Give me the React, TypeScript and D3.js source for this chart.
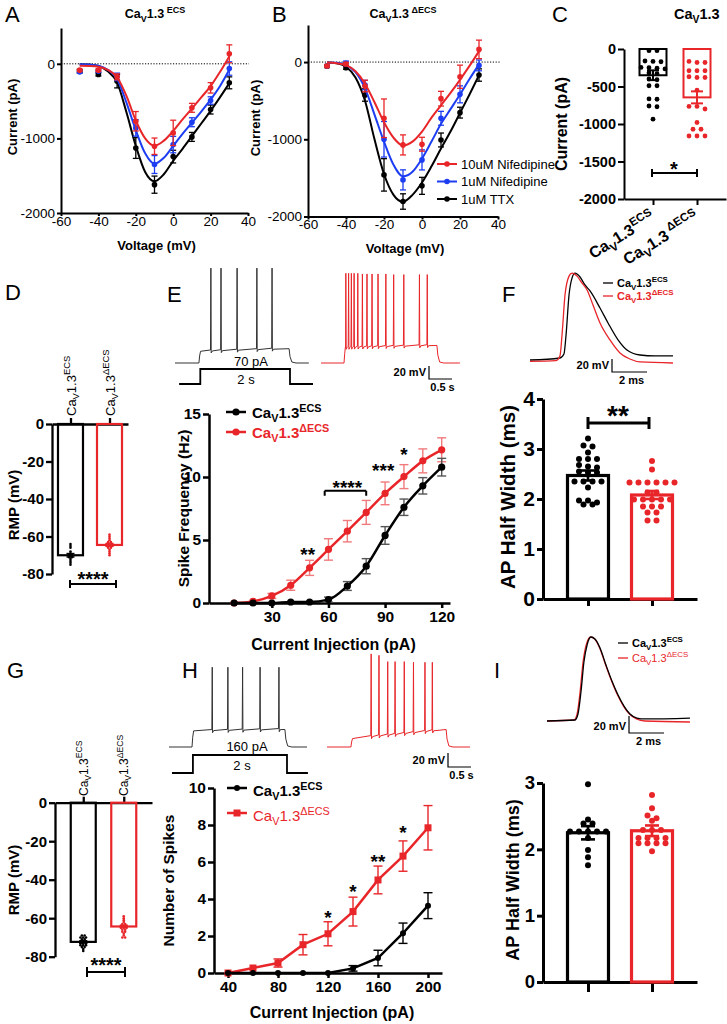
import React, { useEffect, useRef } from 'react';
import * as d3 from 'd3';

const FONT = 'Arial, "Liberation Sans", Helvetica, sans-serif';
const RED = '#e8262a';
const BLUE = '#1d3df2';

// ---------- A / B : current-voltage relation (pA) ----------
const ivVoltage = [-50, -40, -30, -20, -10, 0, 10, 20, 30];
const ecsTtx = [-98, -143, -233, -1128, -1620, -1244, -980, -613, -255];
const ecsTtxErr = [20, 20, 90, 140, 115, 85, 60, 60, 80];
const ecsNif1 = [-110, -98, -175, -860, -1350, -1083, -783, -492, -63];
const ecsNif1Err = [15, 15, 50, 110, 120, 110, 60, 50, 90];
const ecsNif10 = [-85, -85, -175, -770, -1105, -926, -590, -322, 134];
const ecsNif10Err = [15, 15, 40, 130, 110, 170, 60, 70, 120];

const delTtx = [-52, -73, -427, -1461, -1806, -1603, -1009, -655, -168];
const delTtxErr = [20, 20, 80, 210, 100, 110, 90, 70, 80];
const delNif1 = [-50, -17, -297, -1000, -1526, -1267, -728, -418, -43];
const delNif1Err = [15, 30, 60, 230, 130, 130, 90, 110, 70];
const delNif10 = [-50, -25, -310, -728, -1073, -1064, -474, -190, 164];
const delNif10Err = [15, 20, 75, 250, 130, 90, 95, 150, 120];

// fitted curves every 5 mV
const fitVoltage = [-50, -45, -40, -35, -30, -25, -20, -15, -10, -5, 0, 5, 10, 15, 20, 25, 30];
const ecsTtxFit = [-5, -10, -30, -100, -250, -650, -1100, -1450, -1575, -1480, -1300, -1140, -970, -800, -630, -450, -260];
const ecsNif1Fit = [-5, -10, -25, -80, -200, -520, -890, -1200, -1340, -1260, -1100, -940, -790, -640, -480, -300, -80];
const ecsNif10Fit = [-25, -28, -38, -80, -180, -430, -760, -1000, -1100, -1030, -900, -745, -600, -450, -300, -110, 100];
const delTtxFit = [-5, -15, -60, -200, -500, -1000, -1450, -1720, -1810, -1720, -1560, -1350, -1120, -900, -660, -420, -170];
const delNif1Fit = [-5, -10, -40, -130, -340, -680, -1030, -1330, -1480, -1420, -1250, -1030, -800, -610, -420, -220, -30];
const delNif10Fit = [-5, -15, -40, -120, -280, -520, -780, -980, -1080, -1030, -900, -720, -560, -400, -230, -50, 140];

const ivLegend = ['10uM Nifedipine', '1uM Nifedipine', '1uM TTX'];

// ---------- C : peak current per cell (pA) ----------
const cMeans = [-350, -645];
const cSem = [65, 80];
const cEcsCells = [-22, -22, -160, -170, -165, -250, -245, -255, -265, -320, -330, -410, -400, -490, -490, -670, -665, -760, -770, -935];
const cDelCells = [-180, -180, -165, -290, -290, -290, -380, -380, -370, -550, -765, -765, -800, -980, -1070, -1070, -1160, -1160, -1160];

// ---------- D / G : resting membrane potential (mV) ----------
const dMeans = [-70, -64.5];
const dSem = [0.9, 0.7];
const dEcsCells = [-64, -65, -66, -68, -69, -70, -70, -71, -71, -72, -73, -74, -75];
const dDelCells = [-59, -60, -61, -62, -63, -63, -64, -64, -64, -65, -65, -65, -66, -66, -67, -68, -69, -70];
const gMeans = [-72.3, -64.3];
const gSem = [0.5, 0.6];
const gEcsCells = [-69, -69, -70, -70, -70, -71, -71, -72, -72, -72, -73, -73, -73, -74, -74, -74, -75, -75, -76, -77];
const gDelCells = [-59, -60, -61, -62, -63, -63, -64, -64, -64, -65, -65, -65, -66, -66, -67, -67, -68, -69, -70, -70];

// ---------- E : spike frequency (Hz) vs current (pA) ----------
const eCurrents = [10, 20, 30, 40, 50, 60, 70, 80, 90, 100, 110, 120];
const eEcs = [0, 0, 0, 0.08, 0.08, 0.27, 1.35, 2.92, 5.36, 7.6, 9.3, 10.78];
const eEcsErr = [0, 0, 0, 0.05, 0.05, 0.2, 0.35, 0.6, 0.7, 0.65, 0.65, 0.7];
const eDel = [0, 0.13, 0.56, 1.41, 2.79, 4.25, 5.7, 7.19, 8.7, 10.03, 11.28, 12.16];
const eDelErr = [0, 0.1, 0.2, 0.4, 0.6, 0.85, 0.85, 0.95, 0.9, 0.95, 0.95, 0.95];
const eStars = [
  { x: 49, y: 4.2, t: '**' },
  { x: 70, y: 9.55, t: '****' },
  { x: 89, y: 10.9, t: '***' },
  { x: 100, y: 12.15, t: '*' },
];

// ---------- H : number of spikes vs current (pA) ----------
const hCurrents = [40, 60, 80, 100, 120, 140, 160, 180, 200];
const hEcs = [0, 0, 0, 0, 0, 0.25, 0.81, 2.15, 3.64];
const hEcsErr = [0, 0, 0, 0, 0, 0.15, 0.42, 0.55, 0.7];
const hDel = [0, 0.27, 0.54, 1.53, 2.12, 3.32, 5.03, 6.32, 7.85];
const hDelErr = [0, 0.1, 0.22, 0.55, 0.65, 0.78, 0.75, 0.82, 1.2];
const hStars = [
  { x: 120, y: 3.23, t: '*' },
  { x: 140, y: 4.66, t: '*' },
  { x: 160, y: 6.29, t: '**' },
  { x: 180, y: 7.82, t: '*' },
];

// ---------- E / H : example voltage traces (s, mV) ----------
const eEcsTrace = { on: 0.52, off: 2.48, end: 2.91, rest: -65, plateau: [-47, -43], spikes: [0.78, 1.0, 1.35, 1.78, 2.11], peaks: [81, 81, 81, 81, 81] };
const eDelTrace = {
  on: 0.5, off: 2.52, end: 3.02, rest: -65, plateau: [-41, -38],
  spikes: [0.54, 0.6, 0.66, 0.72, 0.8, 0.9, 1.0, 1.11, 1.24, 1.41, 1.58, 1.8, 2.14, 2.31],
  peaks: [73, 73, 73, 73, 73, 72, 72, 72, 72, 72, 71, 71, 71, 71],
};
const hEcsTrace = { on: 0.5, off: 2.52, end: 3.0, rest: -65, plateau: [-42, -40], spikes: [0.94, 1.28, 1.6, 1.98, 2.39], peaks: [49, 49, 49, 49, 49] };
const hDelTrace = {
  on: 0.52, off: 2.59, end: 3.11, rest: -65, plateau: [-53, -40],
  spikes: [0.96, 1.13, 1.32, 1.48, 1.68, 1.88, 2.13, 2.29],
  peaks: [68, 66, 57, 57, 57, 56, 56, 56],
};

// ---------- F / I : averaged action potentials (ms, mV) ----------
const fApEcs = [[0, -60], [1.71, -56.9], [1.94, -50.8], [2.06, -21.5], [2.23, 40], [2.4, 66], [2.57, 73.8], [2.86, 67.7], [3.14, 55.4], [3.43, 46.2], [4.0, 20], [4.46, -3], [5.03, -29], [5.54, -44.6], [6.29, -52.3], [7.14, -53.8], [8.17, -53.8]];
const fApDel = [[0, -62], [1.49, -61], [1.71, -54], [1.83, -21.5], [2.0, 40], [2.23, 69], [2.4, 73.8], [2.69, 69], [2.97, 58.5], [3.26, 47.7], [3.6, 24.6], [4.0, -3], [4.57, -29.2], [5.14, -49.2], [5.71, -58.5], [6.29, -63], [8.17, -64.6]];
const iApEcs = [[0, -60], [1.6, -58.8], [1.77, -51.8], [1.94, -25.9], [2.11, 9.4], [2.29, 29.4], [2.51, 38.8], [2.74, 36.5], [3.03, 25.9], [3.37, 5.9], [3.71, -12.9], [4.06, -29.4], [4.4, -42.4], [4.74, -51.8], [5.14, -56.5], [5.6, -57.6], [8.17, -56.5]];
const iApDel = [[0, -60], [1.55, -58.8], [1.72, -51.8], [1.89, -25.9], [2.06, 9.4], [2.26, 31], [2.49, 38.8], [2.72, 36.5], [3.01, 25.9], [3.35, 5.9], [3.69, -12.9], [4.03, -29.4], [4.37, -42.4], [4.71, -51.8], [5.11, -57.6], [5.6, -60], [8.17, -61.2]];

// ---------- F / I : AP half width (ms) ----------
const fMeans = [2.47, 2.08];
const fSem = [0.1, 0.08];
const fEcsCells = [3.21, 3.05, 3.07, 2.93, 2.8, 2.8, 2.8, 2.65, 2.68, 2.63, 2.53, 2.55, 2.53, 2.35, 2.35, 2.35, 2.35, 2.23, 1.97, 1.93, 1.97, 1.89, 1.89];
const fDelCells = [2.76, 2.59, 2.33, 2.33, 2.33, 2.33, 2.33, 2.33, 2.13, 2.13, 1.99, 1.99, 1.99, 1.99, 1.99, 1.85, 1.85, 1.85, 1.73, 1.73, 1.57, 1.57];
const iMeans = [2.25, 2.28];
const iSem = [0.1, 0.08];
const iEcsCells = [2.98, 2.45, 2.39, 2.39, 2.27, 2.27, 2.27, 2.27, 2.27, 2.17, 1.99, 1.88, 1.76];
const iDelCells = [2.82, 2.62, 2.51, 2.47, 2.43, 2.29, 2.29, 2.29, 2.17, 2.17, 2.17, 2.17, 2.09, 2.09, 2.09, 2.09, 1.97];

// ---------------------------------------------------------------
function styleAxis(g: any, size: number, weight: string, sw: number) {
  g.attr('font-family', FONT).attr('font-size', size).attr('font-weight', weight);
  g.select('.domain').attr('stroke', '#000').attr('stroke-width', sw);
  g.selectAll('.tick line').attr('stroke', '#000').attr('stroke-width', sw);
  g.selectAll('.tick text').attr('fill', '#000');
}

function txt(g: any, x: number, y: number, s: string, size: number, o: any = {}) {
  const t = g.append('text').attr('x', x).attr('y', y).text(s)
    .attr('font-size', size).attr('font-family', FONT)
    .attr('font-weight', o.weight || 'normal').attr('fill', o.fill || '#000')
    .attr('text-anchor', o.anchor || 'start');
  if (o.rotate) t.attr('transform', `rotate(${o.rotate},${x},${y})`);
  return t;
}

// "Ca" + subscript V + "1.3" + superscript
function cav(g: any, x: number, y: number, sup: string, size: number, o: any = {}) {
  const t = g.append('text').attr('x', x).attr('y', y)
    .attr('font-size', size).attr('font-family', FONT)
    .attr('font-weight', o.weight || 'bold').attr('fill', o.fill || '#000')
    .attr('text-anchor', o.anchor || 'start');
  if (o.rotate) t.attr('transform', `rotate(${o.rotate},${x},${y})`);
  t.append('tspan').text('Ca');
  t.append('tspan').attr('font-size', size * 0.72).attr('dy', size * 0.28).text('V');
  t.append('tspan').attr('dy', -size * 0.28).text('1.3');
  t.append('tspan').attr('font-size', size * 0.72).attr('dy', -size * 0.42).text(sup);
  return t;
}

function errorBar(g: any, x: number, y1: number, y2: number, color: string, cap: number, sw: number) {
  g.append('line').attr('x1', x).attr('x2', x).attr('y1', y1).attr('y2', y2).attr('stroke', color).attr('stroke-width', sw);
  [y1, y2].forEach((yy) => {
    g.append('line').attr('x1', x - cap / 2).attr('x2', x + cap / 2).attr('y1', yy).attr('y2', yy)
      .attr('stroke', color).attr('stroke-width', sw);
  });
}

function bracket(g: any, x1: number, x2: number, y: number, up: number, down: number, sw: number) {
  g.append('path')
    .attr('d', `M${x1},${y - up}V${y + down}M${x1},${y}H${x2}M${x2},${y - up}V${y + down}`)
    .attr('stroke', '#000').attr('stroke-width', sw).attr('fill', 'none');
}

function starText(g: any, x: number, cy: number, s: string, size: number) {
  txt(g, x, cy + size * 0.58, s, size, { weight: 'bold', anchor: 'middle' });
}

// column-scatter layout: values at similar height are spread in a row
function swarm(values: number[], y: any, cx: number, spacing: number, tol: number) {
  const pts = values.map((v) => ({ y: y(v) })).sort((a, b) => a.y - b.y);
  const groups: any[] = [];
  pts.forEach((p) => {
    const last = groups[groups.length - 1];
    if (last && Math.abs(p.y - last[0].y) <= tol) last.push(p);
    else groups.push([p]);
  });
  const out: any[] = [];
  groups.forEach((grp) => grp.forEach((p: any, i: number) => out.push({ x: cx + (i - (grp.length - 1) / 2) * spacing, y: p.y })));
  return out;
}

// ---------------------------------------------------------------
function drawIV(root: any, o: any) {
  const g = root.append('g');
  const x = d3.scaleLinear().domain([-60, 40]).range([o.x0, o.x1]);
  const y = d3.scaleLinear().domain([-2000, 480]).range([o.yBottom, o.yTop]);

  g.append('line').attr('x1', o.x0).attr('x2', o.zeroEnd).attr('y1', y(0)).attr('y2', y(0))
    .attr('stroke', '#000').attr('stroke-width', 1).attr('stroke-dasharray', '1.2,1.6');

  const ya = g.append('g').attr('transform', `translate(${o.x0},0)`)
    .call(d3.axisLeft(y).tickValues([-2000, -1000, 0]).tickSize(4).tickSizeOuter(0).tickPadding(2).tickFormat((d: any) => String(d)));
  styleAxis(ya, 13.5, 'normal', 2);
  const xa = g.append('g').attr('transform', `translate(0,${o.yBottom})`)
    .call(d3.axisBottom(x).tickValues([-60, -40, -20, 0, 20, 40]).tickSize(3).tickSizeOuter(0).tickPadding(0).tickFormat((d: any) => String(d)));
  styleAxis(xa, 13.5, 'normal', 2);

  o.series.forEach((s: any) => {
    const line = d3.line<number>().x((_, i) => x(fitVoltage[i])).y((d) => y(d)).curve(d3.curveMonotoneX);
    g.append('path').attr('d', line(s.fit)).attr('fill', 'none').attr('stroke', s.color).attr('stroke-width', 2);
    ivVoltage.forEach((v, i) => errorBar(g, x(v), y(s.vals[i] - s.errs[i]), y(s.vals[i] + s.errs[i]), s.color, 6, 1.3));
    g.append('g').selectAll('circle').data(s.vals).join('circle')
      .attr('cx', (_: any, i: number) => x(ivVoltage[i])).attr('cy', (d: number) => y(d)).attr('r', 2.8).attr('fill', s.color);
  });

  cav(g, o.titleX, 18, o.titleSup, 12.5, { anchor: 'middle' });
  txt(g, o.yLabelX, o.yLabelCY, 'Current (pA)', 13, { weight: 'bold', anchor: 'middle', rotate: -90 });
  txt(g, (o.x0 + o.x1) / 2 + 2, o.xLabelY, 'Voltage (mV)', 13, { weight: 'bold', anchor: 'middle' });
  return { g, x, y };
}

function drawBars(root: any, o: any) {
  const g = root.append('g');
  const x = d3.scalePoint().domain(['ecs', 'del']).range(o.xRange).padding(o.pad);
  const y = d3.scaleLinear().domain(o.yDomain).range(o.yRange);
  const ya = g.append('g').attr('transform', `translate(${o.xRange[0]},0)`)
    .call(d3.axisLeft(y).tickValues(o.yTicks).tickSize(o.yTickLen).tickSizeOuter(0).tickPadding(2).tickFormat((d: any) => String(d)));
  styleAxis(ya, o.font, 'bold', o.axisSW);
  const xAxis = o.xUp ? d3.axisTop(x) : d3.axisBottom(x);
  const xa = g.append('g').attr('transform', `translate(0,${o.xAxisY})`)
    .call(xAxis.tickSize(o.xTickLen).tickSizeOuter(0).tickFormat(() => ''));
  styleAxis(xa, o.font, 'bold', o.axisSW);

  const cols = ['#000', RED];
  ['ecs', 'del'].forEach((k, i) => {
    const cx = x(k) as number;
    const y0 = y(0);
    const ym = y(o.means[i]);
    g.append('rect').attr('x', cx - o.barW / 2).attr('y', Math.min(y0, ym)).attr('width', o.barW)
      .attr('height', Math.abs(ym - y0)).attr('fill', 'none').attr('stroke', cols[i]).attr('stroke-width', o.barSW);
    g.append('g').selectAll('circle').data(swarm(o.cells[i], y, cx, o.spacing, o.tol)).join('circle')
      .attr('cx', (d: any) => d.x).attr('cy', (d: any) => d.y).attr('r', o.dotR).attr('fill', cols[i]);
    errorBar(g, cx, y(o.means[i] - o.sems[i]), y(o.means[i] + o.sems[i]), cols[i], o.capW, o.errSW);
  });
  return { g, x, y };
}

function drawCurves(root: any, o: any) {
  const g = root.append('g');
  const x = d3.scaleLinear().domain(o.xDomain).range(o.xRange);
  const y = d3.scaleLinear().domain(o.yDomain).range(o.yRange);
  const ya = g.append('g').attr('transform', `translate(${o.xRange[0]},0)`)
    .call(d3.axisLeft(y).tickValues(o.yTicks).tickSize(6).tickSizeOuter(0).tickPadding(2).tickFormat((d: any) => String(d)));
  styleAxis(ya, 15.5, 'bold', 2.5);
  const xa = g.append('g').attr('transform', `translate(0,${o.yRange[0]})`)
    .call(d3.axisBottom(x).tickValues(o.xTicks).tickSize(5).tickSizeOuter(0).tickPadding(3).tickFormat((d: any) => String(d)));
  styleAxis(xa, 15.5, 'bold', 2.5);

  const series = [
    { vals: o.del, errs: o.delErr, color: RED, errColor: o.delErrColor, marker: o.delMarker },
    { vals: o.ecs, errs: o.ecsErr, color: '#000', errColor: o.ecsErrColor, marker: 'circle' },
  ];
  series.forEach((s) => {
    s.vals.forEach((v: number, i: number) => {
      if (s.errs[i] > 0.12) errorBar(g, x(o.currents[i]), y(v - s.errs[i]), y(v + s.errs[i]), s.errColor, 9, 1.4);
    });
    const line = d3.line<number>().x((_, i) => x(o.currents[i])).y((d) => y(d)).curve(o.curve);
    g.append('path').attr('d', line(s.vals)).attr('fill', 'none').attr('stroke', s.color).attr('stroke-width', 2.5);
    const mg = g.append('g');
    s.vals.forEach((v: number, i: number) => {
      if (s.marker === 'square') {
        mg.append('rect').attr('x', x(o.currents[i]) - 3.5).attr('y', y(v) - 3.5).attr('width', 7).attr('height', 7).attr('fill', s.color);
      } else {
        mg.append('circle').attr('cx', x(o.currents[i])).attr('cy', y(v)).attr('r', o.dotR).attr('fill', s.color);
      }
    });
  });

  // legend
  o.legend.forEach((l: any) => {
    g.append('line').attr('x1', o.legendX).attr('x2', o.legendX + 20).attr('y1', l.y).attr('y2', l.y).attr('stroke', l.color).attr('stroke-width', 2.5);
    if (l.marker === 'square') g.append('rect').attr('x', o.legendX + 6.5).attr('y', l.y - 3.5).attr('width', 7).attr('height', 7).attr('fill', l.color);
    else g.append('circle').attr('cx', o.legendX + 10).attr('cy', l.y).attr('r', o.dotR).attr('fill', l.color);
    cav(g, o.legendX + 26, l.y + o.legendDy, l.sup, 15, { weight: l.weight, fill: l.color });
  });

  o.stars.forEach((s: any) => starText(g, x(s.x), y(s.y), s.t, o.starSize));
  txt(g, o.yLabelX, (o.yRange[0] + o.yRange[1]) / 2, o.yLabel, 15.5, { weight: 'bold', anchor: 'middle', rotate: -90 });
  txt(g, (o.xRange[0] + o.xRange[1]) / 2 + 4, o.xLabelY, 'Current Injection (pA)', 16, { weight: 'bold', anchor: 'middle' });
  return { g, x, y };
}

function tracePoints(tr: any) {
  const plat = (t: number) => tr.plateau[0] + ((tr.plateau[1] - tr.plateau[0]) * (t - tr.on)) / (tr.off - tr.on);
  const pts: number[][] = [[0, tr.rest], [tr.on, tr.rest], [tr.on + 0.015, tr.rest + 0.6 * (tr.plateau[0] - tr.rest)], [tr.on + 0.035, tr.plateau[0]]];
  tr.spikes.forEach((s: number, i: number) => {
    const p = plat(s);
    pts.push([s - 0.008, p + 1.5], [s, tr.peaks[i]], [s + 0.007, p - 3], [s + 0.03, p]);
  });
  pts.push([tr.off, tr.plateau[1]], [tr.off + 0.02, tr.rest + 0.45 * (tr.plateau[1] - tr.rest)], [tr.off + 0.06, tr.rest + 1.5], [tr.off + 0.15, tr.rest], [tr.end, tr.rest]);
  return pts.sort((a, b) => a[0] - b[0]);
}

function drawTrace(g: any, tr: any, x0: number, restY: number, pxPerMv: number, color: string) {
  const x = d3.scaleLinear().domain([0, 1]).range([x0, x0 + 46]);
  const y = d3.scaleLinear().domain([tr.rest, tr.rest + 1]).range([restY, restY - pxPerMv]);
  const line = d3.line<number[]>().x((d) => x(d[0])).y((d) => y(d[1]));
  g.append('path').attr('d', line(tracePoints(tr))).attr('fill', 'none').attr('stroke', color).attr('stroke-width', 1);
  return { x, y };
}

function drawStep(g: any, x: any, t: number[], yLow: number, yHigh: number) {
  const pts = [[t[0], yLow], [t[1], yLow], [t[1], yHigh], [t[2], yHigh], [t[2], yLow], [t[3], yLow]];
  g.append('path').attr('d', d3.line<number[]>().x((d) => x(d[0])).y((d) => d[1])(pts))
    .attr('fill', 'none').attr('stroke', '#000').attr('stroke-width', 1.8);
}

function scaleBar(g: any, x: number, yBottom: number, vLen: number, hLen: number, vText: string, hText: string, size: number) {
  g.append('path').attr('d', `M${x},${yBottom - vLen}V${yBottom}H${x + hLen}`).attr('fill', 'none').attr('stroke', '#000').attr('stroke-width', 1.2);
  txt(g, x - 3, yBottom - 3, vText, size, { weight: 'bold', anchor: 'end' });
  txt(g, x + hLen / 2 + 2, yBottom + 12, hText, size, { weight: 'bold', anchor: 'middle' });
}

function drawAP(root: any, o: any) {
  const g = root.append('g');
  const x = d3.scaleLinear().domain([0, 2]).range([o.x0, o.x0 + 35]);
  const y = d3.scaleLinear().domain([-60, -40]).range([o.y0, o.y0 - o.mvPx * 20]);
  const line = d3.line<number[]>().x((d) => x(d[0])).y((d) => y(d[1])).curve(d3.curveMonotoneX);
  o.traces.forEach((t: any) => g.append('path').attr('d', line(t.pts)).attr('fill', 'none').attr('stroke', t.color).attr('stroke-width', 1.3));
  scaleBar(g, o.barX, o.barY, o.mvPx * 20, 35, '20 mV', '2 ms', 11);
  o.legend.forEach((l: any) => {
    g.append('line').attr('x1', o.legX).attr('x2', o.legX + 10).attr('y1', l.y).attr('y2', l.y).attr('stroke', l.color).attr('stroke-width', 1.3);
    cav(g, o.legX + 14, l.y + 4, l.sup, 11, { weight: l.weight, fill: l.color });
  });
}

export default function App() {
  const ref = useRef<SVGSVGElement>(null);

  useEffect(() => {
    const svg = d3.select(ref.current);
    svg.selectAll('*').remove();
    const root = svg.append('g').attr('font-family', FONT);

    // panel letters
    const letters: [string, number, number][] = [
      ['A', 5, 22], ['B', 272, 22], ['C', 552, 22], ['D', 5, 300], ['E', 167, 302],
      ['F', 502, 302], ['G', 7, 678], ['H', 182, 678], ['I', 494, 678],
    ];
    letters.forEach(([l, x, y]) => txt(root, x, y, l, 22));

    // ---- A ----
    drawIV(root, {
      x0: 61, x1: 248, yTop: 28, yBottom: 213, zeroEnd: 249, titleX: 155, titleSup: ' ECS',
      yLabelX: 17, yLabelCY: 117, xLabelY: 250,
      series: [
        { fit: ecsTtxFit, vals: ecsTtx, errs: ecsTtxErr, color: '#000' },
        { fit: ecsNif1Fit, vals: ecsNif1, errs: ecsNif1Err, color: BLUE },
        { fit: ecsNif10Fit, vals: ecsNif10, errs: ecsNif10Err, color: RED },
      ],
    });

    // ---- B ----
    const b = drawIV(root, {
      x0: 308, x1: 498, yTop: 25, yBottom: 216.5, zeroEnd: 500, titleX: 403, titleSup: ' \u0394ECS',
      yLabelX: 260, yLabelCY: 118, xLabelY: 253,
      series: [
        { fit: delTtxFit, vals: delTtx, errs: delTtxErr, color: '#000' },
        { fit: delNif1Fit, vals: delNif1, errs: delNif1Err, color: BLUE },
        { fit: delNif10Fit, vals: delNif10, errs: delNif10Err, color: RED },
      ],
    });
    [RED, BLUE, '#000'].forEach((c, i) => {
      const ly = 164 + i * 17.5;
      b.g.append('line').attr('x1', 437).attr('x2', 457).attr('y1', ly).attr('y2', ly).attr('stroke', c).attr('stroke-width', 2);
      b.g.append('circle').attr('cx', 447).attr('cy', ly).attr('r', 2.8).attr('fill', c);
      txt(b.g, 461, ly + 4.5, ivLegend[i], 13);
    });

    // ---- C ----
    const c = drawBars(root, {
      xRange: [624, 726], pad: 0.659, yDomain: [-2000, 0], yRange: [199, 49], yTicks: [-2000, -1500, -1000, -500, 0],
      yTickLen: 6, xTickLen: 6, xUp: false, xAxisY: 199, font: 14.5, axisSW: 2,
      means: cMeans, sems: cSem, cells: [cEcsCells, cDelCells], barW: 27, barSW: 2,
      dotR: 2.4, spacing: 8, tol: 3, capW: 12, errSW: 2,
    });
    cav(c.g, 674, 19, '', 14.5);
    txt(c.g, 567, 124, 'Current (pA)', 16, { weight: 'bold', anchor: 'middle', rotate: -90 });
    bracket(c.g, 652, 697, 173, 4, 4, 2);
    starText(c.g, 674, 164, '*', 20);
    cav(c.g, 656, 220, 'ECS', 16, { anchor: 'end', rotate: -32 });
    cav(c.g, 700, 220, ' \u0394ECS', 16, { anchor: 'end', rotate: -32 });

    // ---- D ----
    const d = drawBars(root, {
      xRange: [52, 128], pad: 0.474, yDomain: [-80, 0], yRange: [574, 424], yTicks: [-80, -60, -40, -20, 0],
      yTickLen: 6, xTickLen: 6, xUp: true, xAxisY: 424, font: 15, axisSW: 2.3,
      means: dMeans, sems: dSem, cells: [dEcsCells, dDelCells], barW: 25, barSW: 2.2,
      dotR: 1.3, spacing: 2.8, tol: 0.8, capW: 8, errSW: 1.5,
    });
    cav(d.g, 71 + 4.5, 416, 'ECS', 13, { weight: 'normal', rotate: -90 });
    cav(d.g, 110 + 4.5, 416, '\u0394ECS', 13, { weight: 'normal', rotate: -90 });
    txt(d.g, 19, 505, 'RMP (mV)', 15, { weight: 'bold', anchor: 'middle', rotate: -90 });
    bracket(d.g, 70, 116, 584, 4, 4, 2);
    starText(d.g, 93, 574, '****', 20);

    // ---- G ----
    const gg = drawBars(root, {
      xRange: [55, 152], pad: 0.6975, yDomain: [-80, 0], yRange: [956.7, 802.7], yTicks: [-80, -60, -40, -20, 0],
      yTickLen: 6, xTickLen: 6, xUp: true, xAxisY: 802.7, font: 15, axisSW: 2.3,
      means: gMeans, sems: gSem, cells: [gEcsCells, gDelCells], barW: 25, barSW: 2.2,
      dotR: 1.3, spacing: 2.8, tol: 0.8, capW: 8, errSW: 1.5,
    });
    cav(gg.g, 83.3 + 4.2, 796, 'ECS', 12, { weight: 'normal', rotate: -90 });
    cav(gg.g, 123.8 + 4.2, 796, '\u0394ECS', 12, { weight: 'normal', rotate: -90 });
    txt(gg.g, 19, 880, 'RMP (mV)', 15, { weight: 'bold', anchor: 'middle', rotate: -90 });
    bracket(gg.g, 87, 125, 972, 5, 5, 2);
    starText(gg.g, 106, 960, '****', 20);

    // ---- E traces ----
    const eg = root.append('g');
    const eb = drawTrace(eg, eEcsTrace, 175, 363, 0.65, '#333');
    drawTrace(eg, eDelTrace, 321, 363, 0.65, RED);
    drawStep(eg, eb.x, [0.09, 0.55, 2.5, 3.0], 384, 369);
    txt(eg, 251, 366, '70 pA', 13, { anchor: 'middle' });
    txt(eg, 246, 384, '2 s', 13, { anchor: 'middle' });
    scaleBar(eg, 429, 379, 13, 23, '20 mV', '0.5 s', 11);

    // ---- E curves ----
    drawCurves(root, {
      xDomain: [-3.3, 124.4], xRange: [209, 450], yDomain: [0, 15], yRange: [603, 414],
      xTicks: [30, 60, 90, 120], yTicks: [0, 5, 10, 15], currents: eCurrents,
      ecs: eEcs, ecsErr: eEcsErr, del: eDel, delErr: eDelErr,
      ecsErrColor: '#555', delErrColor: '#f07a7c', delMarker: 'circle', dotR: 3.6,
      curve: d3.curveMonotoneX, stars: eStars, starSize: 19,
      legendX: 226, legendDy: 6, legend: [
        { y: 412, color: '#000', sup: 'ECS', weight: 'bold', marker: 'circle' },
        { y: 432, color: RED, sup: '\u0394ECS', weight: 'bold', marker: 'circle' },
      ],
      yLabel: 'Spike Frequency (Hz)', yLabelX: 189, xLabelY: 650,
    });
    // bracket under ****
    const eX = d3.scaleLinear().domain([-3.3, 124.4]).range([209, 450]);
    const eY = d3.scaleLinear().domain([0, 15]).range([603, 414]);
    bracket(root, eX(58), eX(80), eY(8.91), 0, 5, 2);

    // ---- F ----
    drawAP(root, {
      x0: 530, y0: 360, mvPx: 0.65, barX: 612, barY: 372, legX: 603,
      traces: [{ pts: fApEcs, color: '#000' }, { pts: fApDel, color: RED }],
      legend: [
        { y: 283, color: '#000', sup: 'ECS', weight: 'bold' },
        { y: 296, color: RED, sup: '\u0394ECS', weight: 'bold' },
      ],
    });
    const f = drawBars(root, {
      xRange: [543, 697], pad: 0.703, yDomain: [0, 4], yRange: [599, 399], yTicks: [0, 1, 2, 3, 4],
      yTickLen: 6, xTickLen: 7, xUp: false, xAxisY: 599, font: 21, axisSW: 3,
      means: fMeans, sems: fSem, cells: [fEcsCells, fDelCells], barW: 41, barSW: 3.2,
      dotR: 3, spacing: 9, tol: 3, capW: 14, errSW: 2.6,
    });
    txt(f.g, 515, 497, 'AP Half Width (ms)', 20.5, { weight: 'bold', anchor: 'middle', rotate: -90 });
    bracket(f.g, 588, 649, 423, 6, 6, 3);
    starText(f.g, 618, 409, '**', 28);

    // ---- H traces ----
    const hg = root.append('g');
    const hb = drawTrace(hg, hEcsTrace, 169, 747, 0.7, '#333');
    drawTrace(hg, hDelTrace, 327, 747, 0.7, RED);
    drawStep(hg, hb.x, [0.065, 0.52, 2.565, 3.02], 773, 755);
    txt(hg, 247, 751, '160 pA', 13, { anchor: 'middle' });
    txt(hg, 242, 770, '2 s', 13, { anchor: 'middle' });
    scaleBar(hg, 448, 767, 14, 23, '20 mV', '0.5 s', 11);

    // ---- H curves ----
    drawCurves(root, {
      xDomain: [28.8, 211.2], xRange: [214, 442], yDomain: [0, 10], yRange: [973, 788],
      xTicks: [40, 80, 120, 160, 200], yTicks: [0, 2, 4, 6, 8, 10], currents: hCurrents,
      ecs: hEcs, ecsErr: hEcsErr, del: hDel, delErr: hDelErr,
      ecsErrColor: '#000', delErrColor: RED, delMarker: 'square', dotR: 3,
      curve: d3.curveLinear, stars: hStars, starSize: 19,
      legendX: 227, legendDy: 8, legend: [
        { y: 788, color: '#000', sup: 'ECS', weight: 'bold', marker: 'circle' },
        { y: 813, color: RED, sup: '\u0394ECS', weight: 'normal', marker: 'square' },
      ],
      yLabel: 'Number of Spikes', yLabelX: 174, xLabelY: 1018,
    });

    // ---- I ----
    drawAP(root, {
      x0: 547, y0: 721, mvPx: 0.85, barX: 629, barY: 733, legX: 618,
      traces: [{ pts: iApDel, color: RED }, { pts: iApEcs, color: '#000' }],
      legend: [
        { y: 643, color: '#000', sup: 'ECS', weight: 'bold' },
        { y: 658, color: RED, sup: '\u0394ECS', weight: 'normal' },
      ],
    });
    const ii = drawBars(root, {
      xRange: [543, 697], pad: 0.703, yDomain: [0, 3], yRange: [982, 783], yTicks: [0, 1, 2, 3],
      yTickLen: 6, xTickLen: 10, xUp: false, xAxisY: 982, font: 18.5, axisSW: 3,
      means: iMeans, sems: iSem, cells: [iEcsCells, iDelCells], barW: 41, barSW: 3.2,
      dotR: 3, spacing: 9, tol: 3, capW: 14, errSW: 2.6,
    });
    txt(ii.g, 519, 880, 'AP Half Width (ms)', 18, { weight: 'bold', anchor: 'middle', rotate: -90 });
  }, []);

  return (
    <svg
      ref={ref}
      width={727}
      height={1024}
      style={{ position: 'absolute', left: 0, top: 0, background: '#fff' }}
    />
  );
}
